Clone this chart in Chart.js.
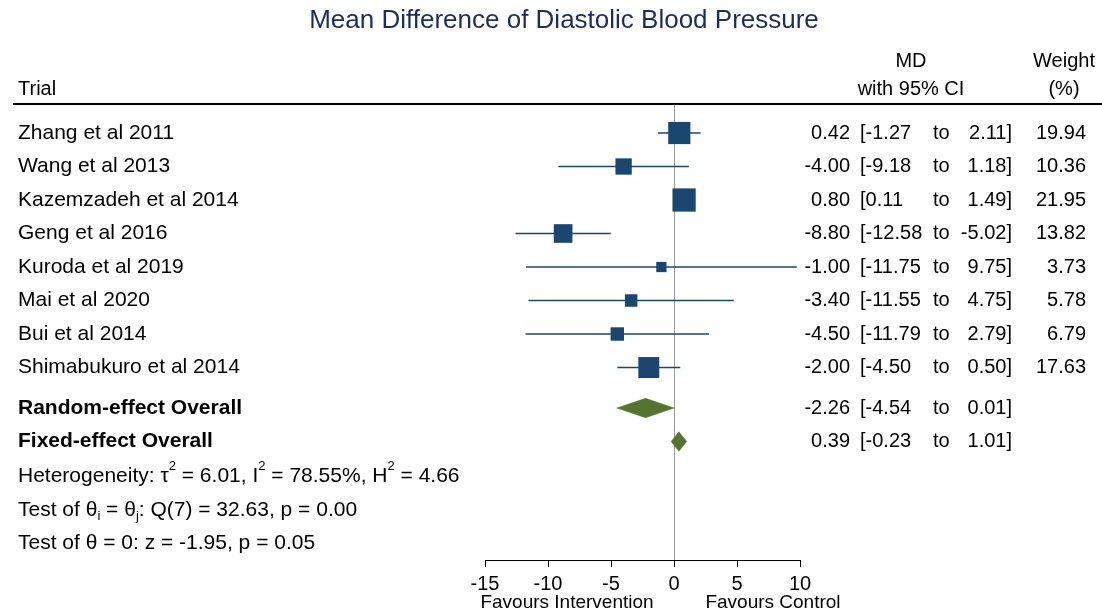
<!DOCTYPE html>
<html>
<head>
<meta charset="utf-8">
<script src="https://cdn.jsdelivr.net/npm/chart.js@4.4.1/dist/chart.umd.min.js"></script>
<style>
  html, body { margin: 0; padding: 0; background: #ffffff; }
  #wrap { position: relative; width: 1102px; height: 613px; }
  canvas { display: block; }
</style>
</head>
<body>
<div id="wrap"><canvas id="c" width="1102" height="613"></canvas></div>
<script>
// ---------------- DATA ----------------
const chartTitle = 'Mean Difference of Diastolic Blood Pressure';
const trials = ['Zhang et al 2011', 'Wang et al 2013', 'Kazemzadeh et al 2014', 'Geng et al 2016',
                'Kuroda et al 2019', 'Mai et al 2020', 'Bui et al 2014', 'Shimabukuro et al 2014'];
const md      = [0.42, -4.00, 0.80, -8.80, -1.00, -3.40, -4.50, -2.00];
const ciLow   = [-1.27, -9.18, 0.11, -12.58, -11.75, -11.55, -11.79, -4.50];
const ciHigh  = [2.11, 1.18, 1.49, -5.02, 9.75, 4.75, 2.79, 0.50];
const weights = [19.94, 10.36, 21.95, 13.82, 3.73, 5.78, 6.79, 17.63];

const overallLabels = ['Random-effect Overall', 'Fixed-effect Overall'];
const overallMd   = [-2.26, 0.39];
const overallLow  = [-4.54, -0.23];
const overallHigh = [0.01, 1.01];

const xTicks = [-15, -10, -5, 0, 5, 10];
const xAxisNotes = ['Favours Intervention', 'Favours Control'];
const headers = { trial: 'Trial', md1: 'MD', md2: 'with 95% CI', w1: 'Weight', w2: '(%)' };
// statistics lines as rich text segments (s = superscript, b = subscript)
const statLines = [
  [['Heterogeneity: τ'], ['2', 's'], [' = 6.01, I'], ['2', 's'], [' = 78.55%, H'], ['2', 's'], [' = 4.66']],
  [['Test of θ'], ['i', 'b'], [' = θ'], ['j', 'b'], [': Q(7) = 32.63, p = 0.00']],
  [['Test of θ = 0: z = -1.95, p = 0.05']]
];

// ---------------- LAYOUT ----------------
const NAVY = '#1a476f';
const GREEN = '#55752f';
const TEXT = '#000000';
const FONT = '"Liberation Sans", Arial, Helvetica, sans-serif';
const Y_MIN = -0.836, Y_MAX = 12.746;
const overallRow = [8.21, 9.21];
const statRow = [10.24, 11.25, 12.24];
const DIAMOND_HALF = 0.29;
const LEFT_FONT = 21;

function squareSide(w) { return 1.2 + 4.7 * Math.sqrt(w); }

// ---------------- DATASETS ----------------
const datasets = [];
datasets.push({
  type: 'scatter',
  label: 'Estimates',
  data: md.map((v, i) => ({ x: v, y: i })),
  pointStyle: 'rect',
  pointRadius: weights.map(w => squareSide(w) / Math.SQRT2),
  pointHoverRadius: weights.map(w => squareSide(w) / Math.SQRT2),
  backgroundColor: NAVY,
  borderColor: NAVY,
  borderWidth: 0,
  showLine: false,
  order: 0
});
md.forEach((v, i) => {
  datasets.push({
    type: 'line',
    label: 'CI ' + trials[i],
    data: [{ x: ciLow[i], y: i }, { x: ciHigh[i], y: i }],
    borderColor: NAVY,
    borderWidth: 1.3,
    pointRadius: 0,
    fill: false,
    order: 1
  });
});
overallMd.forEach((v, k) => {
  const r = overallRow[k];
  datasets.push({
    type: 'line',
    label: overallLabels[k],
    data: [
      { x: overallLow[k], y: r },
      { x: v, y: r - DIAMOND_HALF },
      { x: overallHigh[k], y: r },
      { x: v, y: r + DIAMOND_HALF },
      { x: overallLow[k], y: r }
    ],
    borderColor: GREEN,
    backgroundColor: GREEN,
    borderWidth: 0.5,
    pointRadius: 0,
    tension: 0,
    fill: 'shape',
    order: 0
  });
});

// ---------------- TEXT PLUGIN ----------------
function f(v) { return v.toFixed(2); }

function drawRich(ctx, x, y, segs, size) {
  let cx = x;
  ctx.textAlign = 'left';
  ctx.textBaseline = 'middle';
  segs.forEach(seg => {
    const kind = seg[1];
    let fs = size, dy = 0;
    if (kind === 's') { fs = Math.round(size * 0.6); dy = -size * 0.45; }
    if (kind === 'b') { fs = Math.round(size * 0.6); dy = size * 0.3; }
    ctx.font = fs + 'px ' + FONT;
    ctx.fillText(seg[0], cx, y + dy);
    cx += ctx.measureText(seg[0]).width;
  });
}

const forestText = {
  id: 'forestText',
  beforeDatasetsDraw(chart) {
    const ctx = chart.ctx;
    const xs = chart.scales.x;
    const x0 = xs.getPixelForValue(0);
    ctx.save();
    ctx.strokeStyle = '#9a9a9a';
    ctx.lineWidth = 1;
    ctx.beginPath();
    ctx.moveTo(Math.round(x0) + 0.5, chart.chartArea.top);
    ctx.lineTo(Math.round(x0) + 0.5, chart.chartArea.bottom);
    ctx.stroke();
    ctx.restore();
  },
  afterDraw(chart) {
    const ctx = chart.ctx;
    const ys = chart.scales.y;
    ctx.save();
    // title
    ctx.fillStyle = '#1c2d5a';
    ctx.font = '26px ' + FONT;
    ctx.textAlign = 'center';
    ctx.textBaseline = 'middle';
    ctx.fillText(chartTitle, 564, 21);

    // headers
    ctx.fillStyle = TEXT;
    ctx.font = '20px ' + FONT;
    ctx.textAlign = 'left';
    ctx.fillText(headers.trial, 18, 89);
    ctx.textAlign = 'center';
    ctx.fillText(headers.md1, 911, 61);
    ctx.fillText(headers.md2, 911, 89);
    ctx.fillText(headers.w1, 1064, 61);
    ctx.fillText(headers.w2, 1064, 89);

    // header rule
    ctx.strokeStyle = '#000';
    ctx.lineWidth = 2;
    ctx.beginPath();
    ctx.moveTo(13, 104);
    ctx.lineTo(1102, 104);
    ctx.stroke();

    function statsRow(y, m, lo, hi, w) {
      ctx.font = '20px ' + FONT;
      ctx.textAlign = 'right';
      ctx.fillText(f(m), 850, y);
      ctx.textAlign = 'left';
      ctx.fillText('[' + f(lo), 860, y);
      ctx.fillText('to', 933, y);
      ctx.textAlign = 'right';
      ctx.fillText(f(hi) + ']', 1012, y);
      if (w !== undefined) ctx.fillText(f(w), 1086, y);
    }

    trials.forEach((t, i) => {
      const y = ys.getPixelForValue(i);
      ctx.font = LEFT_FONT + 'px ' + FONT;
      ctx.textAlign = 'left';
      ctx.fillText(t, 18, y);
      statsRow(y, md[i], ciLow[i], ciHigh[i], weights[i]);
    });
    overallLabels.forEach((t, k) => {
      const y = ys.getPixelForValue(overallRow[k]);
      ctx.font = 'bold ' + LEFT_FONT + 'px ' + FONT;
      ctx.textAlign = 'left';
      ctx.fillText(t, 18, y);
      statsRow(y, overallMd[k], overallLow[k], overallHigh[k]);
    });
    statLines.forEach((segs, k) => {
      drawRich(ctx, 18, ys.getPixelForValue(statRow[k]), segs, LEFT_FONT);
    });

    // axis notes
    ctx.font = '19px ' + FONT;
    ctx.textAlign = 'center';
    ctx.textBaseline = 'middle';
    ctx.fillText(xAxisNotes[0], 567, 603);
    ctx.fillText(xAxisNotes[1], 773, 603);
    ctx.restore();
  }
};

new Chart(document.getElementById('c'), {
  type: 'line',
  data: { datasets },
  options: {
    responsive: false,
    animation: false,
    events: [],
    layout: { padding: { left: 485, right: 302, top: 105, bottom: 18 } },
    plugins: {
      legend: { display: false },
      tooltip: { enabled: false },
      title: { display: false }
    },
    scales: {
      x: {
        type: 'linear',
        min: xTicks[0],
        max: xTicks[xTicks.length - 1],
        afterBuildTicks(scale) { scale.ticks = xTicks.map(v => ({ value: v })); },
        afterFit(scale) { scale.height = 35; },
        border: { display: true, color: '#000', width: 1 },
        grid: { display: true, drawOnChartArea: false, drawTicks: true, tickLength: 7, tickColor: '#000', tickWidth: 1 },
        ticks: { color: TEXT, font: { size: 20, family: FONT }, padding: 5, maxRotation: 0, autoSkip: false }
      },
      y: {
        type: 'linear',
        display: false,
        reverse: true,
        min: Y_MIN,
        max: Y_MAX
      }
    }
  },
  plugins: [forestText]
});
</script>
</body>
</html>
